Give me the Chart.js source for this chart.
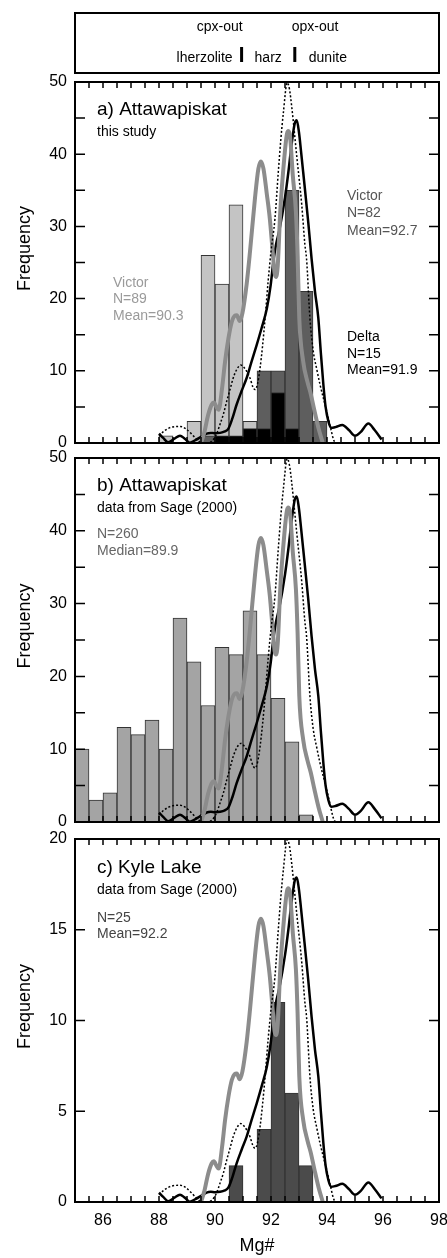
<!DOCTYPE html>
<html>
<head>
<meta charset="utf-8">
<script src="https://cdn.jsdelivr.net/npm/chart.js@4.4.1/dist/chart.umd.min.js"></script>
<style>
  body { margin: 0; background: #fff; }
  #wrap { position: relative; width: 447px; height: 1258px; }
  canvas { position: absolute; left: 0; }
</style>
</head>
<body>
<div id="wrap">
  <canvas id="chartA" width="447" height="450" style="top:0px"></canvas>
  <canvas id="chartB" width="447" height="380" style="top:450px"></canvas>
  <canvas id="chartC" width="447" height="428" style="top:830px"></canvas>
</div>
<script>
// ---------- data ----------
// histogram bins are 0.5 Mg# wide, values given at bin centres

// panel a) Attawapiskat, this study
var aBins     = [88.25, 88.75, 89.25, 89.75, 90.25, 90.75, 91.25, 91.75, 92.25, 92.75, 93.25, 93.75];
var victor89  = [1,     null,  3,     26,    22,    33,    3,     null,  null,  null,  null,  null];
var victor82  = [null,  null,  null,  1,     null,  null,  null,  10,    10,    35,    21,    3];
var delta15   = [null,  null,  null,  null,  1,     1,     2,     2,     7,     2,     null,  null];

// panel b) Attawapiskat, Sage (2000)
var bBins   = [85.25, 85.75, 86.25, 86.75, 87.25, 87.75, 88.25, 88.75, 89.25, 89.75, 90.25, 90.75, 91.25, 91.75, 92.25, 92.75, 93.25];
var sage260 = [10,    3,     4,     13,    12,    14,    10,    28,    22,    16,    24,    23,    29,    23,    17,    11,    1];

// panel c) Kyle Lake, Sage (2000)
var cBins  = [90.75, 91.75, 92.25, 92.75, 93.25];
var kyle25 = [2,     4,     11,    6,     2];

// reference curves (same in every panel, in the 0-50 frequency frame)
var grayX = [89.5, 89.62, 89.75, 89.88, 89.96, 90.05, 90.13, 90.25, 90.36, 90.48, 90.6, 90.7, 90.78, 90.88,
             90.98, 91.13, 91.25, 91.43, 91.55, 91.64, 91.73, 91.85, 91.96, 92.06, 92.13, 92.18, 92.24, 92.33,
             92.48, 92.57, 92.62, 92.68, 92.78, 92.89, 92.95, 93.01, 93.15, 93.3, 93.42, 93.55, 93.7, 93.85];
var grayY = [0, 1.5, 3.8, 5.3, 5.6, 5.0, 4.6, 7.5, 11.3, 14.5, 16.8, 17.6, 17.7, 16.9,
             18, 22, 26.5, 34, 38, 39, 38, 34.5, 31, 26.5, 23.5, 23, 24.5, 32,
             39.7, 42.8, 43.2, 42.5, 37, 32, 26, 17.3, 11.3, 8.5, 6.8, 4.5, 2, 0];

var blackX = [88.0, 88.15, 88.33, 88.55, 88.75, 88.92, 89.1, 89.3, 89.52, 89.7, 89.85, 90.0, 90.18, 90.35,
              90.48, 90.62, 90.77, 90.95, 91.13, 91.3, 91.49, 91.67, 91.85, 91.99, 92.08, 92.18, 92.3, 92.5,
              92.62, 92.74, 92.85, 92.92, 93.0, 93.07, 93.15, 93.33, 93.45, 93.57, 93.69, 93.78, 93.87, 93.95,
              94.05, 94.15, 94.3, 94.55, 94.78, 95.0, 95.2, 95.48, 95.7, 95.95];
var blackY = [1.3, 0.7, 0.1, 0.6, 1.0, 0.6, 0.05, 0.4, 0.9, 1.3, 1.4, 1.35, 1.4, 1.6,
              2.0, 3.4, 5.3, 7.2, 9.0, 11.2, 13.6, 16, 18.6, 21.9, 25, 27.5, 29.5, 34,
              37.5, 41.5, 44.3, 44.7, 43, 40.5, 37.5, 30.6, 25.5, 21, 17.3, 12.5, 8.1, 5,
              3.0, 2.1, 2.2, 2.5, 1.8, 1.0, 1.5, 2.7, 1.8, 0.5];

var dotX = [88.0, 88.2, 88.45, 88.75, 88.95, 89.15, 89.35, 89.55, 89.75, 89.9, 90.05, 90.18, 90.3, 90.42,
            90.55, 90.65, 90.78, 90.92, 91.05, 91.15, 91.25, 91.35, 91.43, 91.52, 91.61, 91.7, 91.79, 91.9,
            92.0, 92.14, 92.26, 92.35, 92.44, 92.58, 92.66, 92.74, 92.92, 93.1, 93.21, 93.27, 93.39, 93.51,
            93.63, 93.75, 93.99, 94.1, 94.23, 94.3];
var dotY = [1.0, 1.7, 2.2, 2.3, 2.0, 1.3, 0.5, 0, 0.05, 0.3, 1.2, 2.6, 4.0, 5.8,
            7.6, 9.0, 10.2, 10.8, 10.4, 9.8, 9.0, 7.8, 7.4, 8.2, 10.4, 13.5, 17.3, 22.5,
            26.5, 31, 37.5, 42, 45.7, 49.9, 49, 46.6, 39.7, 32.9, 27.5, 25.5, 17.3, 12.7,
            10.3, 8.1, 4.4, 2.6, 0.5, 0];

// petrology zone markers for the strip at the top
var cpxOut = 90.95;
var opxOut = 92.85;
var zoneMarks = ['cpx-out', 'opx-out'];
var zoneNames = ['lherzolite', 'harz', 'dunite'];

// ---------- helpers ----------
var FONT = 'Arial, "Liberation Sans", Helvetica, sans-serif';
Chart.defaults.font.family = FONT;
Chart.defaults.color = '#000';

function pts(xs, ys) {
    return xs.map(function(x, i) { return { x: x, y: ys[i] }; });
}

function barSet(bins, counts, fill, order) {
    return {
        type: 'bar',
        data: pts(bins, counts),
        backgroundColor: fill,
        borderColor: '#333',
        borderWidth: 1,
        barPercentage: 1,
        categoryPercentage: 1,
        grouped: false,
        order: order,
        yAxisID: 'y'
    };
}

function curveSets() {
    var common = { type: 'line', yAxisID: 'yk', pointRadius: 0, fill: false, cubicInterpolationMode: 'monotone', order: 0 };
    return [
        Object.assign({ data: pts(dotX, dotY), borderColor: '#000', borderWidth: 1.5, borderDash: [2, 2] }, common),
        Object.assign({ data: pts(grayX, grayY), borderColor: '#8c8c8c', borderWidth: 4 }, common),
        Object.assign({ data: pts(blackX, blackY), borderColor: '#000', borderWidth: 2.5 }, common)
    ];
}

// inward tick marks + frame, placed with the chart's own scales
var framePlugin = {
    id: 'frame',
    afterDatasetsDraw: function(chart) {
        var ctx = chart.ctx, a = chart.chartArea;
        var xs = chart.scales.x, ys = chart.scales.y;
        ctx.save();
        ctx.strokeStyle = '#000';
        ctx.lineWidth = 1.5;
        ctx.beginPath();
        xs.ticks.forEach(function(t) {
            var px = xs.getPixelForValue(t.value);
            if (px <= a.left + 1 || px >= a.right - 1) return;
            ctx.moveTo(px, a.bottom); ctx.lineTo(px, a.bottom - 6);
            ctx.moveTo(px, a.top); ctx.lineTo(px, a.top + 6);
        });
        ys.ticks.forEach(function(t) {
            var py = ys.getPixelForValue(t.value);
            if (py <= a.top + 1 || py >= a.bottom - 1) return;
            ctx.moveTo(a.left, py); ctx.lineTo(a.left + 10, py);
            ctx.moveTo(a.right, py); ctx.lineTo(a.right - 10, py);
        });
        ctx.stroke();
        ctx.lineWidth = 2;
        ctx.strokeRect(a.left, a.top, a.right - a.left, a.bottom - a.top);

        // "Frequency" axis title, sits a little above the panel middle
        ctx.translate(25, (a.top + a.bottom) / 2 - 14);
        ctx.rotate(-Math.PI / 2);
        ctx.font = '18px ' + FONT;
        ctx.fillStyle = '#000';
        ctx.textAlign = 'center';
        ctx.textBaseline = 'middle';
        ctx.fillText('Frequency', 0, 0);
        ctx.restore();
    }
};

// text notes inside a panel, offsets from the chart area's top-left corner
var notesPlugin = {
    id: 'notes',
    afterDraw: function(chart, args, opts) {
        var ctx = chart.ctx, a = chart.chartArea;
        ctx.save();
        ctx.textAlign = 'left';
        ctx.textBaseline = 'alphabetic';
        (opts.items || []).forEach(function(n) {
            ctx.font = (n.size || 14) + 'px ' + FONT;
            ctx.fillStyle = n.color || '#000';
            ctx.fillText(n.t, a.left + n.dx, a.top + n.dy);
        });
        ctx.restore();
    }
};

// the lherzolite / harz / dunite strip above panel a
var zonePlugin = {
    id: 'zones',
    afterDraw: function(chart) {
        var ctx = chart.ctx, a = chart.chartArea, xs = chart.scales.x;
        var p1 = xs.getPixelForValue(cpxOut), p2 = xs.getPixelForValue(opxOut);
        ctx.save();
        ctx.strokeStyle = '#000';
        ctx.lineWidth = 2;
        ctx.strokeRect(a.left, 13, a.right - a.left, 60);
        ctx.lineWidth = 3;
        ctx.beginPath();
        ctx.moveTo(p1, 47); ctx.lineTo(p1, 62);
        ctx.moveTo(p2, 47); ctx.lineTo(p2, 62);
        ctx.stroke();
        ctx.fillStyle = '#000';
        ctx.font = '14px ' + FONT;
        ctx.textBaseline = 'alphabetic';
        ctx.textAlign = 'right';
        ctx.fillText(zoneMarks[0], p1 + 1, 31);
        ctx.fillText(zoneNames[0], p1 - 9, 62);
        ctx.textAlign = 'left';
        ctx.fillText(zoneMarks[1], p2 - 3, 31);
        ctx.fillText(zoneNames[2], p2 + 14, 62);
        ctx.textAlign = 'center';
        ctx.fillText(zoneNames[1], (p1 + p2) / 2, 62);
        ctx.restore();
    }
};

function makePanel(id, o) {
    var plugins = [framePlugin, notesPlugin];
    if (o.zones) plugins.push(zonePlugin);
    return new Chart(document.getElementById(id), {
        type: 'bar',
        data: { datasets: o.bars.concat(curveSets()) },
        plugins: plugins,
        options: {
            responsive: false,
            animation: false,
            events: [],
            layout: { autoPadding: false, padding: o.pad },
            plugins: {
                legend: { display: false },
                tooltip: { enabled: false },
                notes: { items: o.notes }
            },
            scales: {
                x: {
                    type: 'linear', min: 85, max: 98, offset: false,
                    grid: { display: false, drawTicks: false },
                    border: { display: false },
                    ticks: {
                        display: o.xLabels, stepSize: 0.5, autoSkip: false, maxRotation: 0, minRotation: 0,
                        padding: 9, font: { size: 16 },
                        callback: function(v) { return v % 2 === 0 ? v : ''; }
                    },
                    title: { display: o.xLabels, text: 'Mg#', font: { size: 18 }, padding: { top: 0, bottom: 1 } },
                    afterFit: function(s) {
                        s.height = o.xHeight;
                        s.paddingLeft = 0; s.paddingRight = 0;
                    }
                },
                y: {
                    min: 0, max: o.yMax,
                    grid: { display: false, drawTicks: false },
                    border: { display: false },
                    ticks: { stepSize: 5, autoSkip: false, padding: 8, font: { size: 16 }, callback: o.yLabel },
                    afterFit: function(s) {
                        s.width = 75;
                        s.paddingTop = 0; s.paddingBottom = 0;
                    }
                },
                yk: { display: false, min: 0, max: 50 }
            }
        }
    });
}

var tens = function(v) { return v % 10 === 0 ? v : ''; };
var fives = function(v) { return v; };

makePanel('chartA', {
    pad: { top: 82, bottom: 7, left: 0, right: 8 },
    xHeight: 0, xLabels: false, yMax: 50, yLabel: tens, zones: true,
    bars: [
        barSet(aBins, victor89, '#c4c4c4', 3),
        barSet(aBins, victor82, '#5e5e5e', 2),
        barSet(aBins, delta15, '#000000', 1)
    ],
    notes: [
        { t: 'a) Attawapiskat', dx: 22, dy: 33, size: 19 },
        { t: 'this study', dx: 22, dy: 54, size: 14 },
        { t: 'Victor', dx: 272, dy: 118, color: '#555' },
        { t: 'N=82', dx: 272, dy: 135, color: '#555' },
        { t: 'Mean=92.7', dx: 272, dy: 153, color: '#555' },
        { t: 'Victor', dx: 38, dy: 205, color: '#9a9a9a' },
        { t: 'N=89', dx: 38, dy: 221, color: '#9a9a9a' },
        { t: 'Mean=90.3', dx: 38, dy: 238, color: '#9a9a9a' },
        { t: 'Delta', dx: 272, dy: 259 },
        { t: 'N=15', dx: 272, dy: 276 },
        { t: 'Mean=91.9', dx: 272, dy: 292 }
    ]
});

makePanel('chartB', {
    pad: { top: 8, bottom: 8, left: 0, right: 8 },
    xHeight: 0, xLabels: false, yMax: 50, yLabel: tens,
    bars: [ barSet(bBins, sage260, '#a4a4a4', 1) ],
    notes: [
        { t: 'b) Attawapiskat', dx: 22, dy: 33, size: 19 },
        { t: 'data from Sage (2000)', dx: 22, dy: 54, size: 14 },
        { t: 'N=260', dx: 22, dy: 80, color: '#666' },
        { t: 'Median=89.9', dx: 22, dy: 97, color: '#666' }
    ]
});

makePanel('chartC', {
    pad: { top: 9, bottom: 0, left: 0, right: 8 },
    xHeight: 56, xLabels: true, yMax: 20, yLabel: fives,
    bars: [ barSet(cBins, kyle25, '#4b4b4b', 1) ],
    notes: [
        { t: 'c) Kyle Lake', dx: 22, dy: 34, size: 19 },
        { t: 'data from Sage (2000)', dx: 22, dy: 55, size: 14 },
        { t: 'N=25', dx: 22, dy: 83, color: '#444' },
        { t: 'Mean=92.2', dx: 22, dy: 99, color: '#444' }
    ]
});
</script>
</body>
</html>
